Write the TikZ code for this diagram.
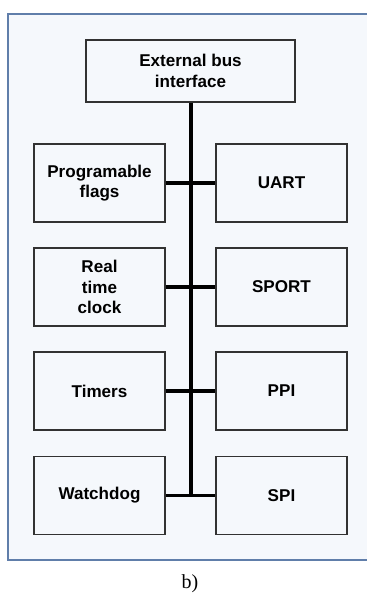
\documentclass[tikz,border=0pt]{standalone}
\usepackage{fontspec}
\newfontfamily\arialfont{Liberation Sans}
\newfontfamily\capfont{Liberation Serif}
\definecolor{framecol}{RGB}{96,126,170}
\definecolor{panelfill}{RGB}{245,248,252}
\definecolor{boxcol}{RGB}{50,50,50}
\tikzset{every picture/.style={line width=0.75pt}}
\tikzset{
  unitbox/.style={draw=boxcol, line width=0.9pt, fill=panelfill, align=center, inner sep=0.75pt,
    font=\arialfont\bfseries\fontsize{12.8}{15.5}\selectfont},
  sidebox/.style={unitbox, minimum width=98.25pt, minimum height=58.5pt},
  bus/.style={line width=3pt},
  tap/.style={line width=2.4pt}
}

\begin{document}
\begin{tikzpicture}[x=0.75pt,y=0.75pt,yscale=-1,xscale=1]
				\useasboundingbox (0,0) rectangle (367,593);
				
				%Shape: Rectangle (outer panel)
				\draw [draw=framecol, line width=1.1pt, fill=panelfill] (8,14) rectangle (372,560) ;
				
				%Top block
				\node (ebi) [unitbox, minimum width=156.75pt, minimum height=46.5pt] at (190.5,71) {External bus\\interface};
				
				%Left column
				\node (flags) [sidebox] at (99.5,183) {Programable\\flags};
				\node (rtc) [sidebox] at (99.5,287) {Real\\time\\clock};
				\node (timers) [sidebox] at (99.5,391) {Timers};
				\node (wdog) [sidebox] at (99.5,495.5) {Watchdog};
				
				%Right column
				\node (uart) [sidebox] at (281.5,183) {UART};
				\node (sport) [sidebox] at (281.5,287) {SPORT};
				\node (ppi) [sidebox] at (281.5,391) {PPI};
				\node (spi) [sidebox] at (281.5,495.5) {SPI};
				
				%Bus line
				\coordinate (busend) at (190.5,497);
				\draw [bus] (ebi.south) -- (busend) ;
				
				%Taps
				\draw [tap] (flags.east) -- (uart.west) ;
				\draw [tap] (rtc.east) -- (sport.west) ;
				\draw [tap] (timers.east) -- (ppi.west) ;
				\draw [tap] (wdog.east) -- (spi.west) ;
				
				%Caption
				\node (cap) [font=\capfont\fontsize{15}{18}\selectfont, inner sep=0.75pt] at (190,584) {b)};
\end{tikzpicture}
\end{document}
